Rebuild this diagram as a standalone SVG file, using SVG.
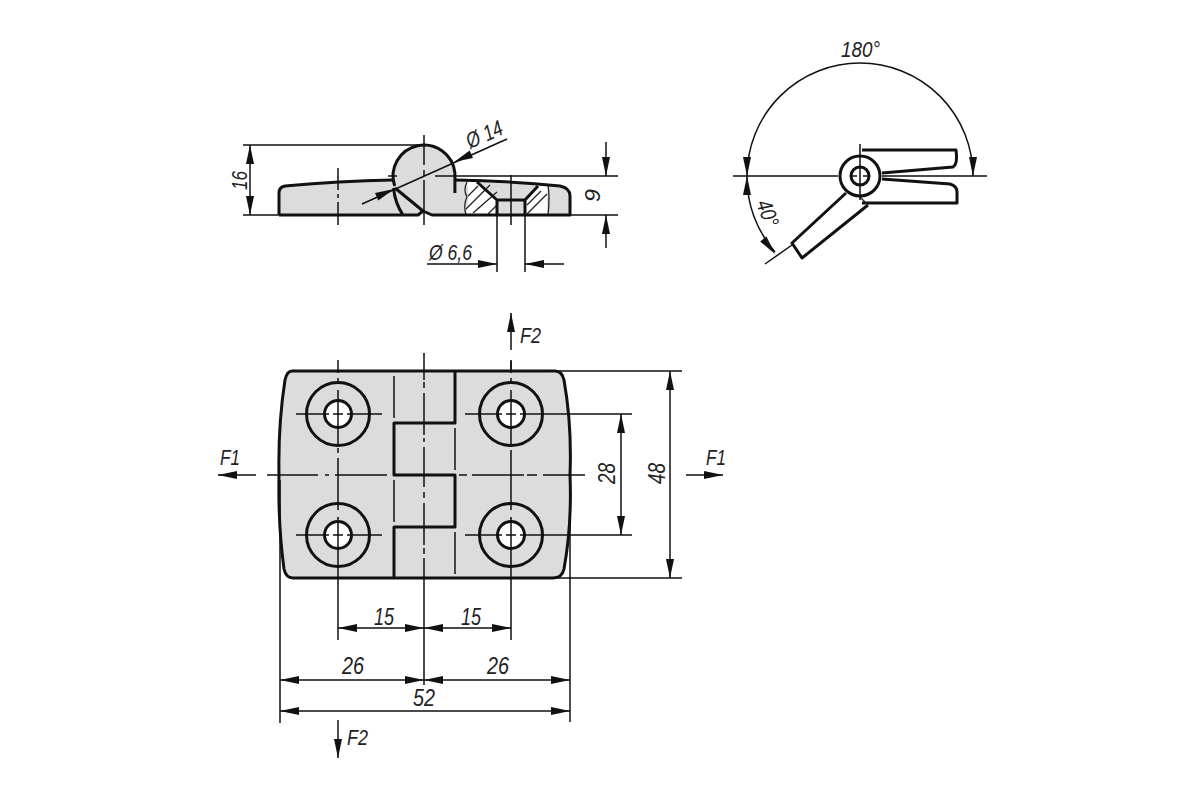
<svg xmlns="http://www.w3.org/2000/svg" width="1200" height="800" viewBox="0 0 1200 800">
<style>
.o{fill:none;stroke:#111;stroke-width:3;stroke-linejoin:round}
.f{fill:#dcdcdc;stroke:#111;stroke-width:3;stroke-linejoin:round}
.w{fill:#fff;stroke:#111;stroke-width:3}
.t{fill:none;stroke:#222;stroke-width:1.3}
.d{fill:none;stroke:#111;stroke-width:1.500}
.a{fill:#111;stroke:none}
text{font-family:"Liberation Sans",Arial,sans-serif;font-style:italic;font-size:22px;fill:#222}
.b{font-size:23px}
</style>
<defs>
<path id="ah" class="a" d="M0 0L-19 -4L-19 4Z"/>
</defs>
<rect width="1200" height="800" fill="#fff"/>
<g id="side-view">
<path d="M279 215L279 193Q279 187 285 186L393 180L393 176A31 31 0 0 1 455 176L455 181L560 186Q570 187 570 196L570 215L432 215L425 210L418 215Z" fill="#dcdcdc"/>
<path d="M467 182L477 182L497 200L497 215L466 215Q470 198 467 182Z" fill="#fff"/>
<path d="M538 186L548 185Q546 200 548 215L525 215L525 200Z" fill="#fff"/>
<g class="t">
<path d="M467 182Q463 190 467 197Q463 205 466 215"/>
<path d="M548 185Q550 198 548 215"/>
<path d="M468 196L478 186M466 209L490 185M473 213L497 192M488 214L497 205M527 214L547 194M527 205L541 191"/>
</g>
<path class="o" d="M279 215L279 193Q279 187 285 186Q340 181 392 180"/>
<path class="o" d="M394.700 186A31 31 0 1 1 454.900 173L454.900 193"/>
<path class="o" d="M393.500 188Q395 203 403 215M395 188L423 211L418 215L279 215M423 211L432 215L570 215L570 196Q570 188 560 186Q510 181 455 180"/>
<path class="o" d="M477 182L497 200L525 200L538 186M497 200L497 215M525 200L525 215"/>
</g>
<g id="angle-view">
<path class="o" d="M862 150L956 150Q958 164 953 167L882 173"/>
<path class="o" d="M882 179L950 184Q957 186 957 192L957 203L862 203"/>
<path class="o" d="M846 193L792 243L802 258L868 205"/>
<path class="t" d="M868 205L860 197"/>
<circle class="w" cx="860" cy="176" r="20"/>
<circle class="w" cx="860" cy="176" r="9"/>
</g>
<g id="plan-view">
<path class="f" d="M292 371L555 371Q562 371 564 380Q572 425 570 475Q572 525 564 569Q562 578 553 578L293 578Q286 578 284 569Q278 525 279 475Q278 425 285 380Q287 371 292 371Z"/>
<path class="o" d="M455 371L455 423L394 423L394 475L455 475L455 527L394 527L394 578"/>
<path class="t" style="stroke-width:1.600" d="M394 376L394 418M394 480L394 522M455 428L455 470M455 532L455 574"/>
<g id="hole-1"><circle class="o" cx="338" cy="414" r="31.500"/><circle class="w" cx="338" cy="414" r="13.500"/></g>
<g id="hole-2"><circle class="o" cx="511" cy="414" r="31.500"/><circle class="w" cx="511" cy="414" r="13.500"/></g>
<g id="hole-3"><circle class="o" cx="338" cy="535" r="31.500"/><circle class="w" cx="338" cy="535" r="13.500"/></g>
<g id="hole-4"><circle class="o" cx="511" cy="535" r="31.500"/><circle class="w" cx="511" cy="535" r="13.500"/></g>
</g>
<g id="connectors">
<path class="d" d="M243 145L424 145M243 215L279 215M250 145L250 215"/>
<use href="#ah" transform="translate(250,145) rotate(-90)"/>
<use href="#ah" transform="translate(250,215) rotate(90)"/>
<path class="d" d="M338 168L338 190M338 194L338 198M338 202L338 225M424 135L424 165M424 170L424 176M424 180L424 225M511 175L511 225"/>
<path class="d" d="M388 176L397 176M435 176L618 176M570 215L618 215M606 142L606 176M606 215L606 248"/>
<use href="#ah" transform="translate(606,176) rotate(90)"/>
<use href="#ah" transform="translate(606,215) rotate(-90)"/>
<path class="d" d="M362 204L507 139"/>
<use href="#ah" transform="translate(394,189) rotate(-24)"/>
<use href="#ah" transform="translate(454,162) rotate(156)"/>
<path class="d" d="M497 200L497 272M525 200L525 272M427 264L497 264M525 264L564 264"/>
<use href="#ah" transform="translate(497,264)"/>
<use href="#ah" transform="translate(525,264) rotate(180)"/>
<path class="d" d="M733 176L838 176M882 176L987 176M860 144L860 200M851 176L857 176M863 176L869 176"/>
<path class="d" d="M747 176A113 113 0 0 1 973 176M747 176A113 113 0 0 0 775 252M765 264L792 245"/>
<use href="#ah" transform="translate(747,176) rotate(90)"/>
<use href="#ah" transform="translate(973,176) rotate(90)"/>
<use href="#ah" transform="translate(747,176) rotate(-90)"/>
<use href="#ah" transform="translate(775,254) rotate(52)"/>
<path class="d" d="M267 475L318 475M325 475L329 475M335 475L387 475M459 475L467 475M472 475L524 475M527 475L537 475M543 475L585 475"/>
<path class="d" d="M218 475L256 475M686 475L723 475"/>
<use href="#ah" transform="translate(218,475) rotate(180)"/>
<use href="#ah" transform="translate(723,475)"/>
<path class="d" d="M511 313L511 350M511 361L511 372M338 720L338 758"/>
<use href="#ah" transform="translate(511,313) rotate(-90)"/>
<use href="#ah" transform="translate(338,758) rotate(90)"/>
<path class="d" d="M338 360L338 373M338 378L338 383M338 390L338 445M338 448L338 453M338 458L338 510M338 517L338 640M511 360L511 373M511 378L511 383M511 390L511 445M511 450L511 510M511 517L511 640M424 353L424 380M424 382L424 388M424 393L424 435M424 438L424 442M424 447L424 487M424 492L424 498M424 503L424 545M424 548L424 554M424 558L424 685"/>
<path class="d" d="M296 414L329 414M333 414L343 414M347 414L382 414M296 535L329 535M333 535L343 535M347 535L382 535M465 414L502 414M506 414L516 414M520 414L632 414M465 535L502 535M506 535L516 535M520 535L632 535M548 371L682 371M553 578L682 578M621 414L621 535M670 371L670 578"/>
<use href="#ah" transform="translate(621,414) rotate(-90)"/>
<use href="#ah" transform="translate(621,535) rotate(90)"/>
<use href="#ah" transform="translate(670,371) rotate(-90)"/>
<use href="#ah" transform="translate(670,578) rotate(90)"/>
<path class="d" d="M280 480L280 723M570 480L570 722M338 628L511 628M280 680L570 680M280 711L570 711"/>
<use href="#ah" transform="translate(338,628) rotate(180)"/>
<use href="#ah" transform="translate(424,628)"/>
<use href="#ah" transform="translate(424,628) rotate(180)"/>
<use href="#ah" transform="translate(511,628)"/>
<use href="#ah" transform="translate(280,680) rotate(180)"/>
<use href="#ah" transform="translate(424,680)"/>
<use href="#ah" transform="translate(424,680) rotate(180)"/>
<use href="#ah" transform="translate(570,680)"/>
<use href="#ah" transform="translate(280,711) rotate(180)"/>
<use href="#ah" transform="translate(570,711)"/>
</g>
<g id="labels">
<text transform="translate(247,190) rotate(-90)" textLength="19" lengthAdjust="spacingAndGlyphs">16</text>
<text transform="translate(600,202) rotate(-90)" textLength="13" lengthAdjust="spacingAndGlyphs">9</text>
<text transform="translate(470,149) rotate(-24)" textLength="38" lengthAdjust="spacingAndGlyphs">Ø 14</text>
<text x="429" y="260" textLength="43" lengthAdjust="spacingAndGlyphs">Ø 6,6</text>
<text x="841" y="57" textLength="39" lengthAdjust="spacingAndGlyphs">180°</text>
<text transform="translate(756,203) rotate(70)" textLength="27" lengthAdjust="spacingAndGlyphs">40°</text>
<text x="220" y="465" textLength="20" lengthAdjust="spacingAndGlyphs">F1</text>
<text x="706" y="465" textLength="20" lengthAdjust="spacingAndGlyphs">F1</text>
<text x="520" y="343" textLength="21" lengthAdjust="spacingAndGlyphs">F2</text>
<text x="347" y="745" textLength="21" lengthAdjust="spacingAndGlyphs">F2</text>
<text class="b" transform="translate(615,484) rotate(-90)" textLength="21" lengthAdjust="spacingAndGlyphs">28</text>
<text class="b" transform="translate(665,484) rotate(-90)" textLength="21" lengthAdjust="spacingAndGlyphs">48</text>
<text class="b" x="374" y="625" textLength="20" lengthAdjust="spacingAndGlyphs">15</text>
<text class="b" x="461" y="625" textLength="20" lengthAdjust="spacingAndGlyphs">15</text>
<text class="b" x="342" y="674" textLength="22" lengthAdjust="spacingAndGlyphs">26</text>
<text class="b" x="487" y="674" textLength="22" lengthAdjust="spacingAndGlyphs">26</text>
<text class="b" x="413" y="706" textLength="22" lengthAdjust="spacingAndGlyphs">52</text>
</g>
</svg>
